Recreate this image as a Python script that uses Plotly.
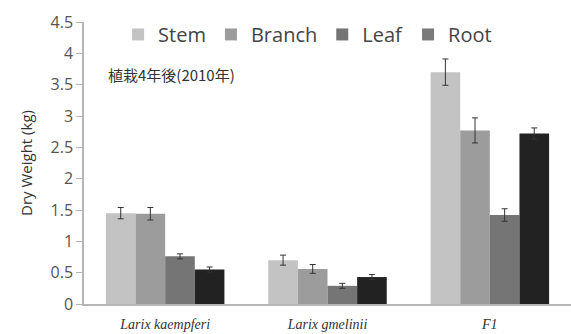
import plotly.graph_objects as go

# Species / groups on the x axis
species = ["Larix kaempferi", "Larix gmelinii", "F1"]

# Dry weight (kg) per organ, with error bar half-widths
stem = [1.45, 0.70, 3.70]
stem_err = [0.09, 0.08, 0.21]
branch = [1.44, 0.56, 2.77]
branch_err = [0.10, 0.07, 0.20]
leaf = [0.76, 0.29, 1.42]
leaf_err = [0.04, 0.04, 0.10]
root = [0.55, 0.43, 2.72]
root_err = [0.04, 0.04, 0.09]

organs = ["Stem", "Branch", "Leaf", "Root"]
bar_colors = ["#c3c3c3", "#9c9c9c", "#757575", "#222222"]
legend_colors = ["#c3c3c3", "#9c9c9c", "#757575", "#7a7a7a"]

y_ticks = [0, 0.5, 1, 1.5, 2, 2.5, 3, 3.5, 4, 4.5]
y_ticklabels = ["0", "0.5", "1", "1.5", "2", "2.5", "3", "3.5", "4", "4.5"]

series = [(stem, stem_err), (branch, branch_err), (leaf, leaf_err), (root, root_err)]

fig = go.Figure()
for name, (vals, errs), col in zip(organs, series, bar_colors):
    fig.add_trace(go.Bar(
        x=species, y=vals, name=name, showlegend=False,
        marker=dict(color=col, line=dict(width=0)),
        error_y=dict(type="data", array=errs, visible=True,
                     color="#333333", thickness=1, width=3),
    ))

# Legend swatches (marker-only entries, no data drawn)
for name, col in zip(organs, legend_colors):
    fig.add_trace(go.Scatter(x=[None], y=[None], name=name, mode="markers",
                             marker=dict(color=col, symbol="square", size=12),
                             showlegend=True))

fig.add_annotation(
    text="植栽4年後(2010年)", xref="paper", yref="paper",
    x=0.045, y=0.815, xanchor="left", yanchor="middle", showarrow=False,
    font=dict(family="Noto Sans CJK JP", size=15, color="#333333"),
)

fig.update_layout(
    width=571, height=334,
    margin=dict(l=84, r=0, t=22, b=30),
    paper_bgcolor="white", plot_bgcolor="white",
    barmode="group", bargap=0.27, bargroupgap=0,
    font=dict(family="Open Sans", color="#444444"),
    legend=dict(orientation="h", x=0.07, y=1.025, xanchor="left", yanchor="top",
                font=dict(size=20, color="#444444"), traceorder="normal",
                itemwidth=30, bgcolor="rgba(0,0,0,0)"),
    xaxis=dict(
        tickmode="array", tickvals=species,
        ticktext=["<i>" + s + "</i>" for s in species],
        tickfont=dict(family="Liberation Serif", size=14, color="#333333"),
        showline=True, linecolor="#b5b5b5", linewidth=1.5,
        ticks="", showgrid=False, ticklabelstandoff=6,
    ),
    yaxis=dict(
        range=[0, 4.5], tickmode="array", tickvals=y_ticks, ticktext=y_ticklabels,
        tickfont=dict(size=16, color="#555555"),
        showline=True, linecolor="#b5b5b5", linewidth=1.5,
        ticks="outside", ticklen=6, tickcolor="#b5b5b5",
        showgrid=False, zeroline=False,
        title=dict(text="Dry Weight (kg)", font=dict(size=15, color="#333333"), standoff=14),
    ),
)

fig.write_html("out.html")
